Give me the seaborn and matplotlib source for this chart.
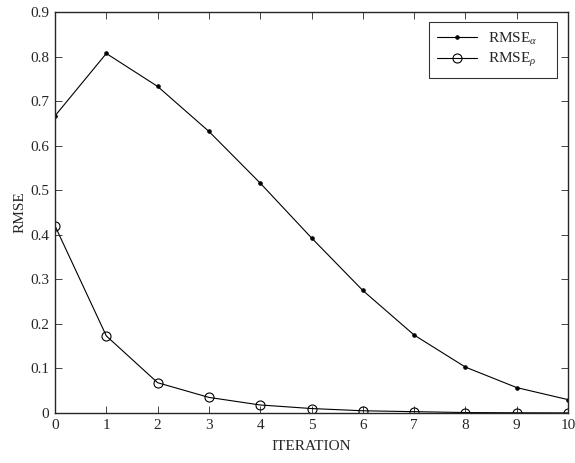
import matplotlib
matplotlib.use("Agg")
import matplotlib.pyplot as plt
import seaborn as sns
import pandas as pd

iterations = [0, 1, 2, 3, 4, 5, 6, 7, 8, 9, 10]
rmse_alpha = [0.667, 0.807, 0.733, 0.632, 0.516, 0.393, 0.275, 0.175, 0.103, 0.057, 0.030]
rmse_rho = [0.420, 0.173, 0.068, 0.035, 0.018, 0.010, 0.005, 0.003, 0.001, 0.0005, 0.0002]
y_ticks = [0, 0.1, 0.2, 0.3, 0.4, 0.5, 0.6, 0.7, 0.8, 0.9]
y_labels = ["0", "0.1", "0.2", "0.3", "0.4", "0.5", "0.6", "0.7", "0.8", "0.9"]

sns.set_style("ticks")
plt.rcParams['font.family'] = ['Liberation Serif', 'DejaVu Serif']
plt.rcParams['mathtext.fontset'] = 'custom'
plt.rcParams['mathtext.rm'] = 'Liberation Serif'
plt.rcParams['mathtext.it'] = 'Liberation Serif:italic'

df = pd.DataFrame({"x": iterations, "a": rmse_alpha, "r": rmse_rho})

fig = plt.figure(figsize=(5.75, 4.63), dpi=100)
ax = fig.add_axes([0.0957, 0.108, 0.8922, 0.866])

sns.lineplot(data=df, x="x", y="a", ax=ax, color="black", lw=0.8, marker="o",
             markersize=2.5, markerfacecolor="black", markeredgecolor="black",
             label=r"RMSE$_{\alpha}$" + "    ")
sns.lineplot(data=df, x="x", y="r", ax=ax, color="black", lw=0.8, marker="o",
             markersize=6.5, markerfacecolor="none", markeredgecolor="black",
             markeredgewidth=0.8, label=r"RMSE$_{\rho}$" + "    ")

ax.set_xlim(0, 10)
ax.set_ylim(0, 0.9)
ax.set_xticks(iterations)
ax.set_xticklabels([str(i) for i in iterations])
ax.set_yticks(y_ticks)
ax.set_yticklabels(y_labels)
ax.tick_params(direction="in", top=True, right=True, labelsize=11, length=5, width=0.6, pad=4)
for s in ax.spines.values():
    s.set_linewidth(1.0)
    s.set_visible(True)
ax.set_xlabel("ITERATION", fontsize=11, labelpad=6)
ax.set_ylabel("RMSE", fontsize=11, labelpad=3)

leg = ax.legend(loc="upper right", bbox_to_anchor=(0.979, 0.975), frameon=True, fancybox=False,
                edgecolor="black", fontsize=11, handlelength=2.6, borderpad=0.55,
                labelspacing=0.3, handletextpad=0.7, borderaxespad=0)
leg.get_frame().set_linewidth(0.8)

fig.savefig("out.png", dpi=100)
